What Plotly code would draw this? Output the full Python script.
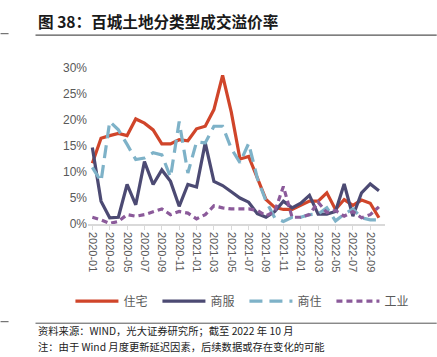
import plotly.graph_objects as go

months = ["2020-01","2020-02","2020-03","2020-04","2020-05","2020-06","2020-07","2020-08","2020-09","2020-10","2020-11","2020-12",
          "2021-01","2021-02","2021-03","2021-04","2021-05","2021-06","2021-07","2021-08","2021-09","2021-10","2021-11","2021-12",
          "2022-01","2022-02","2022-03","2022-04","2022-05","2022-06","2022-07","2022-08","2022-09","2022-10"]

residential = [11.7,16.5,17.0,17.4,17.0,20.2,19.4,18.1,15.4,15.4,16.2,16.0,
               18.3,18.8,22.0,28.6,21.5,12.5,13.0,8.8,4.7,3.2,2.8,2.8,
               3.6,4.4,4.4,6.0,2.8,4.7,3.6,4.6,4.0,1.2]
commercial = [14.7,4.4,1.2,1.3,7.6,3.7,12.0,7.6,10.4,8.2,3.4,7.6,
              7.1,15.6,8.2,7.4,6.2,5.0,4.2,2.0,1.3,2.4,4.4,3.1,
              4.0,5.5,1.9,1.9,2.4,7.7,1.5,6.0,7.7,6.4]
mixed = [10.9,8.2,19.7,18.1,15.3,12.4,12.7,13.7,13.3,9.0,19.7,9.8,
         15.8,15.6,18.8,18.8,14.5,11.8,15.5,8.8,4.4,1.2,0.5,1.3,
         1.3,1.8,1.9,3.1,0.6,1.9,2.9,1.2,0.8,0.8]
industrial = [1.3,0.8,0.1,0.5,1.8,1.5,1.8,2.4,2.9,1.8,2.4,2.1,
              1.0,1.8,3.5,3.1,2.9,2.9,2.9,2.6,1.6,2.4,7.2,1.3,
              1.3,1.8,4.2,2.2,2.6,1.5,2.4,1.2,1.8,3.3]

series_names = ["住宅", "商服", "商住", "工业"]
tick_labels = months[::2]
y_ticks = [0, 5, 10, 15, 20, 25, 30]

W, H = 437, 357
L, R = 87.6, 385.2
T, B = 68.3, 224.3

def px(x):
    return (x - L) / (R - L)

def py(y):
    return (B - y) / (B - T)

fig = go.Figure()
styles = [
    dict(color="#D0452A", width=3.2, dash="solid"),
    dict(color="#4C4A73", width=3.2, dash="solid"),
    dict(color="#7EB2C8", width=3.2, dash="13px,7px"),
    dict(color="#8B5A9A", width=3.2, dash="6px,4px"),
]
for name, vals, st in zip(series_names, [residential, commercial, mixed, industrial], styles):
    fig.add_trace(go.Scatter(x=months, y=vals, mode="lines", name=name, line=st))

fig.update_xaxes(
    type="category", categoryorder="array", categoryarray=months,
    range=[-0.5, 33.7], tickvals=tick_labels, ticktext=tick_labels,
    tickangle=90, tickfont=dict(size=11, color="#595959", family="Liberation Sans, Arial"),
    showgrid=False, showline=True, linecolor="#D9D9D9", linewidth=1.5,
    ticks="outside", ticklen=4, tickcolor="#D9D9D9", zeroline=False,
)
fig.update_yaxes(
    range=[0, 30], tickvals=y_ticks, ticktext=[f"{v}%" for v in y_ticks],
    tickfont=dict(size=12, color="#595959", family="Liberation Sans, Arial"),
    showgrid=False, zeroline=False, showline=False, ticks="",
)

cn = "Noto Sans CJK SC"
annotations = [
    dict(text="<b>图 38：百城土地分类型成交溢价率</b>", x=px(35), y=py(21), xref="paper", yref="paper",
         xanchor="left", yanchor="middle", showarrow=False, font=dict(size=15.6, color="#1a1a1a", family=cn)),
    dict(text="资料来源：WIND，光大证券研究所；截至 2022 年 10 月", x=px(35), y=py(331), xref="paper", yref="paper",
         xanchor="left", yanchor="middle", showarrow=False, font=dict(size=10.3, color="#222222", family=cn)),
    dict(text="注：由于 Wind 月度更新延迟因素，后续数据或存在变化的可能", x=px(35), y=py(347), xref="paper", yref="paper",
         xanchor="left", yanchor="middle", showarrow=False, font=dict(size=10.3, color="#222222", family=cn)),
]
shapes = [
    dict(type="line", xref="paper", yref="paper", x0=px(35), x1=px(437), y0=py(35.5), y1=py(35.5), line=dict(color="#555555", width=1.2)),
    dict(type="line", xref="paper", yref="paper", x0=px(0), x1=px(8), y0=py(34), y1=py(34), line=dict(color="#555555", width=1)),
    dict(type="line", xref="paper", yref="paper", x0=px(35), x1=px(437), y0=py(323.5), y1=py(323.5), line=dict(color="#555555", width=1)),
    dict(type="line", xref="paper", yref="paper", x0=px(0), x1=px(8), y0=py(322), y1=py(322), line=dict(color="#555555", width=1)),
]

fig.update_layout(
    width=W, height=H,
    margin=dict(l=L, r=W - R, t=T, b=H - B, pad=0),
    paper_bgcolor="white", plot_bgcolor="white",
    showlegend=True,
    legend=dict(orientation="h", x=px(70), y=py(287), xanchor="left", yanchor="top",
                font=dict(size=12, color="#595959", family=cn), itemwidth=43,
                entrywidth=29, entrywidthmode="pixels",
                bgcolor="rgba(0,0,0,0)", tracegroupgap=0),
    annotations=annotations, shapes=shapes,
)

fig.write_html("out.html", config={"displayModeBar": False},
               post_script="document.body.style.margin='0';document.body.style.padding='0';")
